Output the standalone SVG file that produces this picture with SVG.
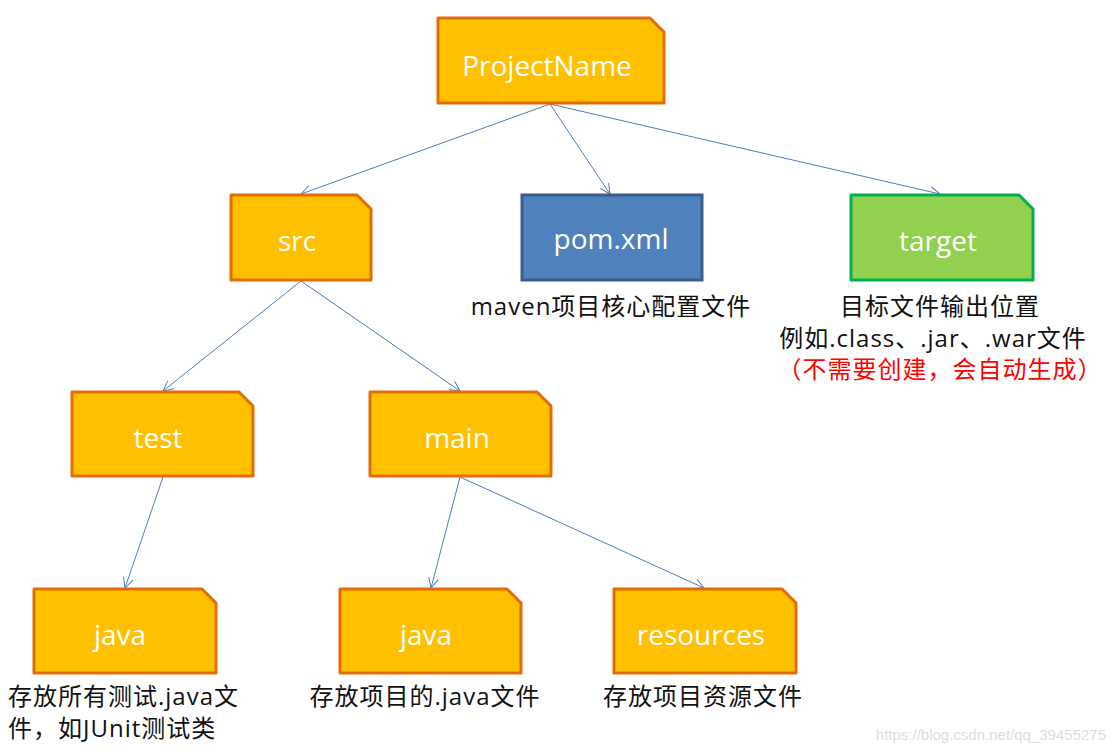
<svg xmlns="http://www.w3.org/2000/svg" width="1116" height="752" viewBox="0 0 1116 752">
<defs>
<style>
.n{fill:#FFC000;stroke:#E36C09;stroke-width:3;stroke-linejoin:round}
.nt{font-family:"Open Sans","Noto Sans",sans-serif;font-size:28px;fill:#fff;text-anchor:middle}
.lb{font-family:"Open Sans","Noto Sans CJK SC",sans-serif;font-size:24px;letter-spacing:1px;fill:#111}
.c{stroke:#4A7EBB;stroke-width:1;fill:none;marker-end:url(#a)}
</style>
<marker id="a" viewBox="0 0 12 12" refX="11" refY="6" markerWidth="12" markerHeight="12" markerUnits="userSpaceOnUse" orient="auto">
<path d="M1,1 L11,6 L1,11" fill="none" stroke="#4A7EBB" stroke-width="1"/>
</marker>
</defs>
<rect width="1116" height="752" fill="#fff"/>
<g id="connectors">
<line class="c" x1="550" y1="104" x2="301" y2="194"/>
<line class="c" x1="550" y1="104" x2="610" y2="194"/>
<line class="c" x1="550" y1="104" x2="940" y2="194"/>
<line class="c" x1="301" y1="281" x2="163" y2="391"/>
<line class="c" x1="301" y1="281" x2="460" y2="391"/>
<line class="c" x1="163" y1="477" x2="125" y2="588"/>
<line class="c" x1="460" y1="477" x2="431" y2="588"/>
<line class="c" x1="460" y1="477" x2="704" y2="588"/>
</g>
<g id="projectname">
<path class="n" d="M438,18 H650 L664,32 V103 H438 Z"/>
<text class="nt" x="547" y="76">ProjectName</text>
</g>
<g id="src">
<path class="n" d="M231,195 H357 L371,209 V280 H231 Z"/>
<text class="nt" x="297" y="251">src</text>
</g>
<g id="pom">
<rect x="522" y="195" width="180" height="85" fill="#4F81BD" stroke="#385D8A" stroke-width="3"/>
<text class="nt" x="611" y="249">pom.xml</text>
<text class="lb" x="611" y="315" text-anchor="middle">maven项目核心配置文件</text>
</g>
<g id="target">
<path d="M851,195 H1019 L1033,209 V280 H851 Z" fill="#92D050" stroke="#00B050" stroke-width="3" stroke-linejoin="round"/>
<text class="nt" x="938" y="251">target</text>
<text class="lb" x="940" y="315" text-anchor="middle">目标文件输出位置</text>
<text class="lb" x="933" y="347" text-anchor="middle">例如.class、.jar、.war文件</text>
<text class="lb" x="940" y="378" text-anchor="middle" style="fill:#FF0000">（不需要创建，会自动生成）</text>
</g>
<g id="test">
<path class="n" d="M72,392 H239 L253,406 V476 H72 Z"/>
<text class="nt" x="158" y="448">test</text>
</g>
<g id="main">
<path class="n" d="M370,392 H537 L551,406 V476 H370 Z"/>
<text class="nt" x="457" y="448">main</text>
</g>
<g id="java-test">
<path class="n" d="M34,589 H202 L216,603 V673 H34 Z"/>
<text class="nt" x="120" y="645">java</text>
<text class="lb" x="8" y="705">存放所有测试.java文</text>
<text class="lb" x="8" y="737">件，如JUnit测试类</text>
</g>
<g id="java-main">
<path class="n" d="M340,589 H507 L521,603 V673 H340 Z"/>
<text class="nt" x="426" y="645">java</text>
<text class="lb" x="425" y="705" text-anchor="middle">存放项目的.java文件</text>
</g>
<g id="resources">
<path class="n" d="M614,589 H782 L796,603 V673 H614 Z"/>
<text class="nt" x="701" y="645">resources</text>
<text class="lb" x="703" y="705" text-anchor="middle">存放项目资源文件</text>
</g>
<text x="1106" y="740" text-anchor="end" font-family="'Liberation Sans',sans-serif" font-size="15" fill="#DDDDDD">https://blog.csdn.net/qq_39455275</text>
</svg>
